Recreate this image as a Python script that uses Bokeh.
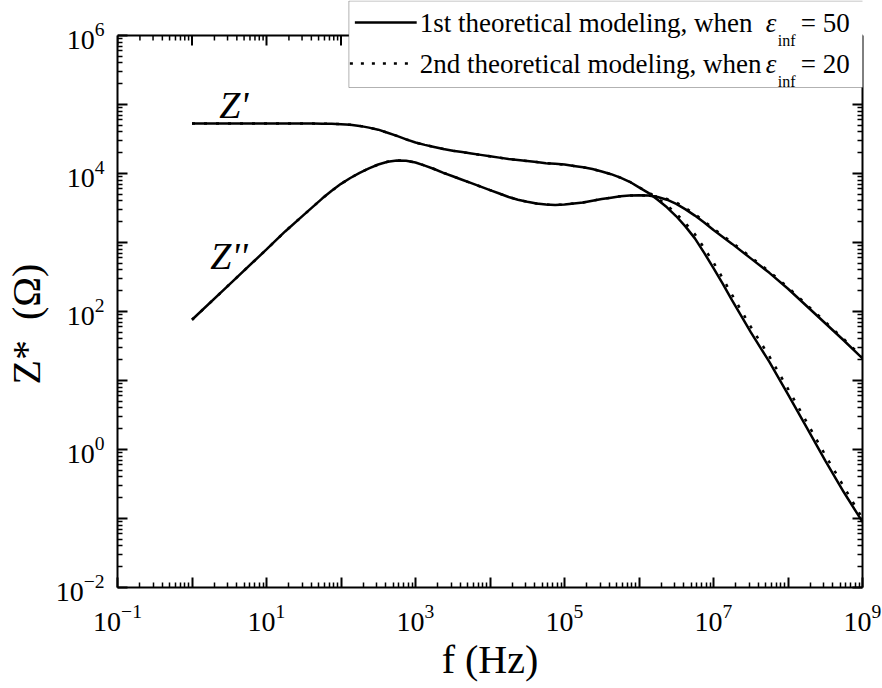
from bokeh.plotting import figure
from bokeh.models import LogAxis, FixedTicker, Label, BoxAnnotation, Arrow, Span
from bokeh.embed import file_html
from bokeh.resources import INLINE

# ---------------- data (log10 values) ----------------
log_f = [0.0, 0.5, 1.0, 1.25,
         1.5, 1.625, 1.75, 1.875, 2.0, 2.125, 2.25, 2.375, 2.5, 2.625, 2.75, 2.875,
         3.0, 3.125, 3.25, 3.375, 3.5, 3.625, 3.75, 3.875, 4.0, 4.125, 4.25, 4.375,
         4.5, 4.625, 4.75, 4.875, 5.0, 5.125, 5.25, 5.375, 5.5, 5.625, 5.75, 5.875,
         6.0, 6.125, 6.25, 6.375, 6.5, 6.625, 6.75, 6.875, 7.0, 7.125, 7.25,
         7.5, 7.75, 8.0, 8.25, 8.5, 8.75, 9.0]

# 1st theoretical modeling (eps_inf = 50), solid
log_zre_1 = [4.725, 4.725, 4.725, 4.725,
             4.724, 4.723, 4.722, 4.72, 4.715, 4.705, 4.69, 4.665, 4.635, 4.59, 4.545, 4.495,
             4.45, 4.415, 4.385, 4.355, 4.33, 4.31, 4.29, 4.27, 4.25, 4.23, 4.21, 4.195,
             4.18, 4.165, 4.15, 4.14, 4.13, 4.11, 4.09, 4.065, 4.03, 3.99, 3.94, 3.88,
             3.80, 3.72, 3.62, 3.51, 3.38, 3.23, 3.06, 2.85, 2.63, 2.40, 2.16,
             1.70, 1.27, 0.80, 0.32, -0.16, -0.62, -1.05]
log_zim_1 = [1.88, 2.39, 2.90, 3.16,
             3.40, 3.52, 3.64, 3.75, 3.85, 3.935, 4.01, 4.075, 4.13, 4.17, 4.19, 4.185,
             4.16, 4.115, 4.065, 4.01, 3.96, 3.91, 3.86, 3.81, 3.76, 3.71, 3.66, 3.62,
             3.59, 3.565, 3.55, 3.545, 3.55, 3.565, 3.58, 3.605, 3.63, 3.65, 3.67, 3.68,
             3.685, 3.68, 3.66, 3.62, 3.56, 3.48, 3.39, 3.29, 3.18, 3.08, 2.98,
             2.77, 2.56, 2.33, 2.08, 1.83, 1.58, 1.32]

# 2nd theoretical modeling (eps_inf = 20), dotted
log_zre_2 = [4.725, 4.725, 4.725, 4.725,
             4.724, 4.723, 4.722, 4.72, 4.715, 4.705, 4.69, 4.665, 4.635, 4.59, 4.545, 4.495,
             4.45, 4.415, 4.385, 4.355, 4.33, 4.31, 4.29, 4.27, 4.25, 4.23, 4.21, 4.195,
             4.18, 4.165, 4.15, 4.14, 4.13, 4.11, 4.09, 4.065, 4.03, 3.99, 3.94, 3.88,
             3.80, 3.73, 3.64, 3.54, 3.42, 3.28, 3.12, 2.92, 2.71, 2.48, 2.24,
             1.78, 1.35, 0.88, 0.40, -0.08, -0.54, -1.00]
log_zim_2 = [1.88, 2.39, 2.90, 3.16,
             3.40, 3.52, 3.64, 3.75, 3.85, 3.935, 4.01, 4.075, 4.13, 4.17, 4.19, 4.185,
             4.16, 4.115, 4.065, 4.01, 3.96, 3.91, 3.86, 3.81, 3.76, 3.71, 3.66, 3.62,
             3.59, 3.565, 3.55, 3.545, 3.55, 3.565, 3.58, 3.605, 3.63, 3.65, 3.67, 3.68,
             3.685, 3.68, 3.665, 3.63, 3.58, 3.50, 3.41, 3.31, 3.20, 3.10, 3.00,
             2.79, 2.58, 2.35, 2.10, 1.85, 1.60, 1.34]

x_major_exp = list(range(-1, 10))
x_label_exp = [-1, 1, 3, 5, 7, 9]
y_major_exp = list(range(-2, 7))
y_label_exp = [-2, 0, 2, 4, 6]

legend_1 = ["1st theoretical modeling, when", "\u03b5", "inf", "= 50"]
legend_2 = ["2nd theoretical modeling, when", "\u03b5", "inf", "= 20"]

f = [10 ** v for v in log_f]
zre1 = [10 ** v for v in log_zre_1]
zim1 = [10 ** v for v in log_zim_1]
zre2 = [10 ** v for v in log_zre_2]
zim2 = [10 ** v for v in log_zim_2]

SERIF = "Liberation Serif"
NB = "\u00a0"

# geometry (page px): axes box of the chart
FX0, FX1, FY0, FY1 = 115, 862, 35, 587
W, H = 882, 688
DEC_X = (FX1 - FX0) / 10.0   # px per decade on x
DEC_Y = (FY1 - FY0) / 8.0    # px per decade on y
MID = 0.3375                 # em-box middle above the baseline (Liberation Serif)


def px_x(xp):
    return 10 ** ((xp - FX0) / DEC_X - 1)


def px_y(yp):
    return 10 ** (6 - (yp - FY0) / DEC_Y)


def text_at(xp, baseline, text, size, style="normal"):
    return Label(x=px_x(xp), y=px_y(baseline - MID * size), text=text, text_font=SERIF,
                 text_font_style=style, text_font_size=f"{size}px", text_color="black",
                 text_baseline="middle", text_align="left")


# the plotting frame reaches the top of the canvas so that the legend (which
# overlaps the top edge of the axes box) is not clipped; axes use bounds.
p = figure(width=W, height=H, x_axis_type="log", y_axis_type="log",
           x_range=(0.1, 1e9), y_range=(1e-2, px_y(0)),
           output_backend="svg", toolbar_location=None,
           min_border_left=FX0, min_border_right=W - FX1,
           min_border_top=0, min_border_bottom=H - FY1)
p.grid.visible = False
p.outline_line_color = None
p.background_fill_color = "white"
p.border_fill_color = "white"

x_major = [10.0 ** k for k in x_major_exp]
x_minor = [m * 10.0 ** k for k in x_major_exp[:-1] for m in range(2, 10)]
y_major = [10.0 ** k for k in y_major_exp]
y_minor = [m * 10.0 ** k for k in y_major_exp[:-1] for m in range(2, 10)]


def style_axis(ax):
    ax.major_tick_in = 10
    ax.major_tick_out = 0
    ax.minor_tick_in = 5
    ax.minor_tick_out = 0
    ax.major_tick_line_width = 2
    ax.minor_tick_line_width = 1.5
    ax.axis_line_width = 2
    ax.major_tick_line_color = "black"
    ax.minor_tick_line_color = "black"
    ax.axis_line_color = "black"
    ax.major_label_text_font = SERIF
    ax.major_label_text_font_size = "28px"
    ax.major_label_text_color = "black"
    ax.major_label_text_font_style = "normal"


xa = p.xaxis[0]
xa.ticker = FixedTicker(ticks=x_major, minor_ticks=x_minor)
style_axis(xa)
xa.major_label_standoff = 17
xa.major_label_overrides = {10.0 ** k: "" for k in x_major_exp if k not in x_label_exp}
xa.axis_label = "f (Hz)"
xa.axis_label_text_font = SERIF
xa.axis_label_text_font_size = "40px"
xa.axis_label_text_font_style = "normal"
xa.axis_label_text_color = "black"
xa.axis_label_standoff = 3

ya = p.yaxis[0]
ya.ticker = FixedTicker(ticks=y_major, minor_ticks=y_minor)
ya.bounds = (1e-2, 1e6)
style_axis(ya)
ya.major_label_standoff = 13
ya.major_label_overrides = {10.0 ** k: "" for k in y_major_exp if k not in y_label_exp}
ya.axis_label = "Z*" + NB + NB + "(\u03a9)" + NB * 6
ya.axis_label_text_font = SERIF
ya.axis_label_text_font_size = "40px"
ya.axis_label_text_font_style = "normal"
ya.axis_label_text_color = "black"
ya.axis_label_standoff = 4

right = LogAxis(ticker=FixedTicker(ticks=y_major, minor_ticks=y_minor), bounds=(1e-2, 1e6))
style_axis(right)
right.major_label_overrides = {10.0 ** k: "" for k in y_major_exp}
right.major_label_standoff = 0
p.add_layout(right, "right")

# top edge of the axes box at 1e6 with inward ticks
top_major_len = 10 ** (-10 / DEC_Y)
top_minor_len = 10 ** (-5 / DEC_Y)
p.segment(x0=x_major, x1=x_major, y0=[1e6] * len(x_major), y1=[1e6 * top_major_len] * len(x_major),
          line_color="black", line_width=2)
p.segment(x0=x_minor, x1=x_minor, y0=[1e6] * len(x_minor), y1=[1e6 * top_minor_len] * len(x_minor),
          line_color="black", line_width=1.5)
p.add_layout(Span(location=1e6, dimension="width", line_color="black", line_width=2))

# curves
p.line(f, zre2, line_color="black", line_width=2.5, line_dash="3 9")
p.line(f, zim2, line_color="black", line_width=2.5, line_dash="3 9")
p.line(f, zre1, line_color="black", line_width=2.5)
p.line(f, zim1, line_color="black", line_width=2.5)

# curve labels
p.add_layout(text_at(217, 117, "Z'", 38, "italic"))
p.add_layout(text_at(208, 268, "Z''", 38, "italic"))

# legend box
p.add_layout(BoxAnnotation(left=px_x(347), right=px_x(900), top=px_y(0.5), bottom=px_y(87),
                           fill_color="white", fill_alpha=1.0, line_color="black", line_width=1))
p.add_layout(Arrow(end=None, x_start=px_x(353), y_start=px_y(22), x_end=px_x(415), y_end=px_y(22),
                   line_color="black", line_width=2.5))
p.add_layout(Arrow(end=None, x_start=px_x(348), y_start=px_y(63), x_end=px_x(414), y_end=px_y(63),
                   line_color="black", line_width=2.5, line_dash="3 8"))

for items, base in ((legend_1, 31.5), (legend_2, 73)):
    main, eps, sub, tail = items
    p.add_layout(text_at(418, base, main, 27))
    p.add_layout(text_at(765, base, eps, 27, "italic"))
    p.add_layout(text_at(777, base + 13.5, sub, 16))
    p.add_layout(text_at(800, base, tail, 27))

open("out.html", "w").write(file_html(p, INLINE))
